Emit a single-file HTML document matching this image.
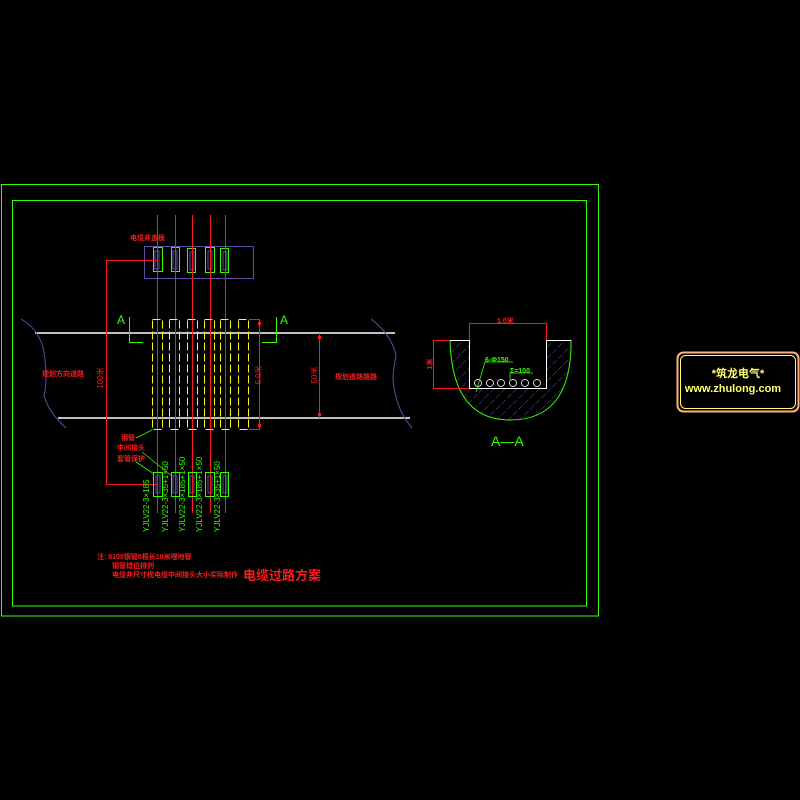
<!DOCTYPE html>
<html><head><meta charset="utf-8"><style>
html,body{margin:0;padding:0;background:#000;width:800px;height:800px;overflow:hidden}
svg{display:block}
text{font-family:"Liberation Sans","Noto Sans CJK SC",sans-serif}
</style></head><body>
<svg width="800" height="800" viewBox="0 0 800 800" xmlns="http://www.w3.org/2000/svg">
<defs>
<pattern id="h" width="8" height="8" patternUnits="userSpaceOnUse" patternTransform="rotate(45)">
<line x1="0" y1="0" x2="0" y2="8" stroke="#5a4fa0" stroke-width="1" stroke-dasharray="3,2"/>
</pattern>
</defs>
<rect width="800" height="800" fill="#000"/>
<rect x="1.5" y="184.5" width="597" height="431.5" fill="none" stroke="#33ff00" stroke-width="1"/>
<rect x="12.5" y="200.5" width="574" height="405.5" fill="none" stroke="#33ff00" stroke-width="1"/>

<line x1="35" y1="333" x2="395" y2="333" stroke="#fff" stroke-width="1.5"/>
<line x1="58" y1="418" x2="410" y2="418" stroke="#fff" stroke-width="1.5"/>
<path d="M21,319 Q40,330 44,352 Q48,380 44,395 Q48,412 66,428" fill="none" stroke="#5a4fa0" stroke-width="1"/>
<path d="M371,319 Q392,335 396,356 Q393,370 393,380 Q396,410 412,428" fill="none" stroke="#5a4fa0" stroke-width="1"/>
<text x="42" y="376" font-size="7" font-weight="bold" fill="#ff1a1a">规划方向道路</text>
<text x="335" y="379" font-size="7" font-weight="bold" fill="#ff1a1a">规划道路路路</text>

<rect x="144.5" y="246.5" width="109" height="32" fill="none" stroke="#5a4fa0" stroke-width="1"/>
<text x="130" y="240" font-size="7" font-weight="bold" fill="#ff1a1a">电缆井盖板</text>
<g fill="none" stroke="#33ff00" stroke-width="1">
<rect x="153.5" y="247.5" width="9" height="24"/><rect x="171.5" y="247.5" width="8" height="24"/><rect x="187.5" y="248.5" width="8" height="24"/><rect x="205.5" y="247.5" width="9" height="25"/><rect x="220.5" y="248.5" width="8" height="24"/>
</g>
<g fill="none" stroke="#5a4fa0" stroke-width="1">
<rect x="155" y="251" width="4" height="18"/><rect x="173" y="251" width="4" height="18"/><rect x="190" y="252" width="4" height="18"/><rect x="208" y="251" width="4" height="18"/><rect x="223" y="252" width="4" height="18"/>
</g>
<g stroke="#ff1a1a" stroke-width="1">
<line x1="157.5" y1="215" x2="157.5" y2="513"/><line x1="175.5" y1="215" x2="175.5" y2="513"/><line x1="192.5" y1="215" x2="192.5" y2="513"/><line x1="210.5" y1="215" x2="210.5" y2="513"/><line x1="225.5" y1="215" x2="225.5" y2="513"/>
<polyline points="157,260.5 106.5,260.5 106.5,484.5 157,484.5" fill="none"/>
</g>
<text transform="translate(103,378) rotate(-90)" font-size="8" fill="#ff1a1a" text-anchor="middle">100米</text>

<g fill="none" stroke="#ffff00" stroke-width="1" stroke-dasharray="8,3">
<rect x="152.5" y="319.5" width="10" height="110"/><rect x="169.5" y="319.5" width="10" height="110"/><rect x="187.5" y="319.5" width="10" height="110"/><rect x="204.5" y="319.5" width="10" height="110"/><rect x="220.5" y="319.5" width="10" height="110"/><rect x="238.5" y="319.5" width="10" height="110"/>
</g>
<g stroke="#ff1a1a" stroke-width="1" fill="none">
<polyline points="249,319.5 259.5,319.5 259.5,429.5 249,429.5"/>
<line x1="319.5" y1="333" x2="319.5" y2="418"/>
</g>
<g fill="#ff1a1a"><rect x="258" y="322" width="3" height="3"/><rect x="258" y="424" width="3" height="3"/><rect x="318" y="336" width="3" height="3"/><rect x="318" y="413" width="3" height="3"/></g>
<text transform="translate(261,375) rotate(-90)" font-size="8" fill="#ff1a1a" text-anchor="middle">6.0米</text>
<text transform="translate(317,375) rotate(-90)" font-size="8" fill="#ff1a1a" text-anchor="middle">50米</text>

<g stroke="#33ff00" stroke-width="1" fill="none">
<polyline points="129.5,317 129.5,342.5 143,342.5"/>
<polyline points="276.5,317 276.5,342.5 262,342.5"/>
</g>
<text x="117" y="324" font-size="12" fill="#33ff00">A</text>
<text x="280" y="324" font-size="12" fill="#33ff00">A</text>

<text x="121" y="440" font-size="7" font-weight="bold" fill="#ff1a1a">钢管</text>
<text x="117" y="450" font-size="7" font-weight="bold" fill="#ff1a1a">中间接头</text>
<text x="117" y="461" font-size="7" font-weight="bold" fill="#ff1a1a">套管保护</text>
<g stroke="#33ff00" stroke-width="0.8">
<line x1="136" y1="438" x2="152" y2="430"/>
<line x1="142" y1="452" x2="172" y2="476"/>
<line x1="136" y1="462" x2="154" y2="474"/>
</g>
<g fill="none" stroke="#33ff00" stroke-width="1">
<rect x="153.5" y="472.5" width="9" height="24"/><rect x="171.5" y="472.5" width="8" height="24"/><rect x="188.5" y="472.5" width="8" height="24"/><rect x="205.5" y="472.5" width="9" height="24"/><rect x="220.5" y="472.5" width="8" height="24"/>
</g>
<g fill="none" stroke="#5a4fa0" stroke-width="1">
<rect x="156" y="476" width="4" height="17"/><rect x="173" y="476" width="4" height="17"/><rect x="190" y="476" width="4" height="17"/><rect x="208" y="476" width="4" height="17"/><rect x="223" y="476" width="4" height="17"/>
</g>
<g font-size="8" fill="#33ff00">
<text transform="translate(149,532) rotate(-90)">YJLV22-3×185</text>
<text transform="translate(168,532) rotate(-90)">YJLV22-3×35+1×50</text>
<text transform="translate(185,532) rotate(-90)">YJLV22-3×185+1×50</text>
<text transform="translate(202,532) rotate(-90)">YJLV22-3×185+1×50</text>
<text transform="translate(220,532) rotate(-90)">YJLV22-3×35+1×50</text>
</g>

<text x="97" y="559" font-size="7" font-weight="bold" fill="#ff1a1a">注: 8100钢管8根长10米埋地管</text>
<text x="112" y="568" font-size="7" font-weight="bold" fill="#ff1a1a">钢管错位排列</text>
<text x="112" y="577" font-size="7" font-weight="bold" fill="#ff1a1a">电缆井尺寸视电缆中间接头大小实际制作</text>
<text x="243" y="580" font-size="13" font-weight="bold" fill="#ff1a1a">电缆过路方案</text>

<path d="M450,340 L469,340 L469,389 L546,389 L546,340 L571,340 Q572,420 510,420 Q452,420 450,340 Z" fill="url(#h)" stroke="none"/>
<path d="M450,340 Q452,420 510,420 Q572,420 571,340" fill="none" stroke="#33ff00" stroke-width="1"/>
<polyline points="450,340.5 469.5,340.5 469.5,388.5 546.5,388.5 546.5,340.5 571,340.5" fill="none" stroke="#fff" stroke-width="1"/>
<g fill="none" stroke="#fff" stroke-width="0.8">
<circle cx="478" cy="383" r="3.5"/><circle cx="490" cy="383" r="3.5"/><circle cx="501" cy="383" r="3.5"/><circle cx="513" cy="383" r="3.5"/><circle cx="525" cy="383" r="3.5"/><circle cx="537" cy="383" r="3.5"/>
</g>
<g stroke="#ff1a1a" stroke-width="1" fill="none">
<polyline points="469.5,340 469.5,323.5 546.5,323.5 546.5,340"/>
<polyline points="450,340.5 433.5,340.5 433.5,388.5 469,388.5"/>
</g>
<text x="497" y="323" font-size="7" font-weight="bold" fill="#ff1a1a">1.0米</text>
<text transform="translate(432,364) rotate(-90)" font-size="7" font-weight="bold" fill="#ff1a1a" text-anchor="middle">1米</text>
<g stroke="#33ff00" stroke-width="0.8" fill="none">
<polyline points="513,362 485,362 476,392"/>
<polyline points="533,373 510,373 510,380"/>
</g>
<text x="485" y="362" font-size="7" font-weight="bold" fill="#33ff00">6-Φ150</text>
<text x="510" y="373" font-size="7" font-weight="bold" fill="#33ff00">Σ=100</text>
<text x="491" y="446" font-size="14" fill="#33ff00">A—A</text>

<rect x="677.5" y="352.5" width="121" height="59" rx="6" fill="none" stroke="#ffb080" stroke-width="2"/>
<rect x="680.5" y="355.5" width="115" height="53" rx="5" fill="none" stroke="#ffff66" stroke-width="1"/>
<text x="738" y="377" font-size="11" font-weight="bold" fill="#ffff66" text-anchor="middle">*筑龙电气*</text>
<text x="733" y="392" font-size="11" font-weight="bold" fill="#ffff66" text-anchor="middle" font-family="Liberation Serif,serif">www.zhulong.com</text>
</svg>
</body></html>
